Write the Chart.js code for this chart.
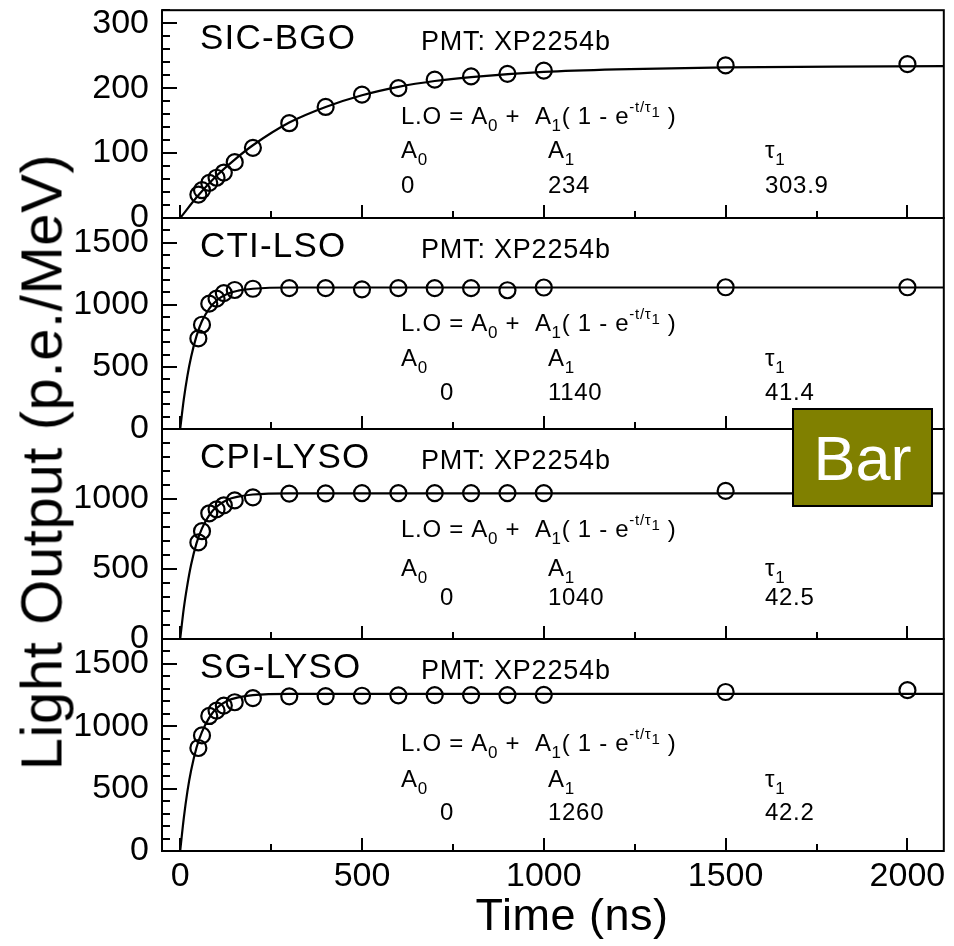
<!DOCTYPE html>
<html>
<head>
<meta charset="utf-8">
<script src="https://cdn.jsdelivr.net/npm/chart.js@4.4.0/dist/chart.umd.min.js"></script>
<style>
  body { margin: 0; background: #fff; }
  #fig { position: relative; width: 954px; height: 946px; font-family: "Liberation Sans", Arial, sans-serif; overflow: hidden; }
  #fig canvas { position: absolute; left: 0; }
  #ytitle { position: absolute; left: 41px; top: 462px; transform: translate(-50%, -50%) rotate(-90deg); font-size: 58px; letter-spacing: 0.6px; white-space: nowrap; color: #000; }
  #bar { position: absolute; left: 792px; top: 408px; width: 141px; height: 99px; box-sizing: border-box; background: #808000; border: 2px solid #000; color: #fff; font-size: 63px; display: flex; align-items: center; justify-content: center; z-index: 5; }
</style>
</head>
<body>
<div id="fig">
  <canvas id="c0" width="954" height="238" style="top:0px"></canvas>
  <canvas id="c1" width="954" height="251" style="top:198px"></canvas>
  <canvas id="c2" width="954" height="250" style="top:409px"></canvas>
  <canvas id="c3" width="954" height="327" style="top:619px"></canvas>
  <div id="ytitle">Light Output (p.e./MeV)</div>
  <div id="bar">Bar</div>
</div>
<script>
// measured gates (ns) and light output (p.e./MeV)
const times = [50, 60, 80, 100, 120, 150, 200, 300, 400, 500, 600, 700, 800, 900, 1000, 1500, 2000];
const sicBgo = [36, 43, 54, 62, 70, 86, 108, 146, 171, 190, 200, 213, 218, 222, 227, 235, 237];
const ctiLso = [730, 840, 1010, 1050, 1095, 1120, 1130, 1135, 1135, 1125, 1135, 1135, 1135, 1118, 1140, 1142, 1142];
const cpiLyso = [690, 770, 898, 926, 955, 990, 1012, 1038, 1040, 1042, 1042, 1042, 1042, 1042, 1042, 1058, 1045];
const sgLyso = [826, 927, 1083, 1126, 1166, 1193, 1226, 1240, 1242, 1245, 1248, 1250, 1250, 1250, 1252, 1275, 1290];

// fit curves
const fitTimesSlow = [0, 50, 100, 150, 200, 300, 400, 500, 600, 700, 800, 1000, 1200, 1500, 1800, 2100];
const fitSicBgo = [0, 35, 65, 90, 112, 147, 171, 189, 202, 211, 217, 225, 229, 232, 233, 234];
const fitTimesFast = [0, 10, 20, 30, 45, 60, 80, 100, 130, 160, 200, 300, 2100];
const fitCtiLso = [0, 240, 430, 580, 750, 870, 970, 1035, 1090, 1115, 1130, 1140, 1140];
const fitCpiLyso = [0, 220, 390, 530, 685, 790, 885, 945, 995, 1017, 1032, 1040, 1040];
const fitSgLyso = [0, 265, 480, 645, 830, 955, 1070, 1145, 1205, 1232, 1250, 1260, 1260];

// axes
const xTicks = [0, 500, 1000, 1500, 2000];
const yTicksBgo = [0, 100, 200, 300];
const yTicksLyso = [0, 500, 1000, 1500];
const yTicksCpi = [0, 500, 1000];

// labels
const panelNames = ['SIC-BGO', 'CTI-LSO', 'CPI-LYSO', 'SG-LYSO'];
const fitA0 = ['0', '0', '0', '0'];
const fitA1 = ['234', '1140', '1040', '1260'];
const fitTau = ['303.9', '41.4', '42.5', '42.2'];
const pmtLabel = 'PMT: XP2254b';
const xTitle = 'Time (ns)';

Chart.defaults.font.family = '"Liberation Sans", Arial, sans-serif';
Chart.defaults.color = '#000';

const FONT = '"Liberation Sans", Arial, sans-serif';

function rich(ctx, x, y, parts) {
  for (const [t, size, dy] of parts) {
    ctx.font = size + 'px ' + FONT;
    ctx.fillText(t, x, y + dy);
    x += ctx.measureText(t).width;
  }
}

// no extra room for half-labels at the ends of the axes
function noPad(s) {
  s.paddingTop = 0; s.paddingBottom = 0; s.paddingLeft = 0; s.paddingRight = 0;
}

const frame = {
  id: 'frame',
  afterDatasetsDraw(chart, args, o) {
    const {ctx, chartArea: a} = chart;
    const x = chart.scales.x, y = chart.scales.y;
    ctx.save();
    ctx.strokeStyle = '#000';
    ctx.lineWidth = 2;
    ctx.strokeRect(a.left, a.top, a.right - a.left, a.bottom - a.top);
    ctx.beginPath();
    for (let v = 0; v <= y.max; v += o.minor) {
      const py = Math.round(y.getPixelForValue(v));
      const len = v % o.major === 0 ? 15 : 8;
      ctx.moveTo(a.left, py);
      ctx.lineTo(a.left + len, py);
    }
    for (let v = 0; v <= 2000; v += 250) {
      const px = Math.round(x.getPixelForValue(v));
      const len = v % 500 === 0 ? 13 : 7;
      ctx.moveTo(px, a.bottom);
      ctx.lineTo(px, a.bottom - len);
    }
    ctx.stroke();

    const i = o.index;
    const L = a.left, T = a.top;
    ctx.fillStyle = '#000';
    ctx.textBaseline = 'alphabetic';
    ctx.textAlign = 'left';
    ctx.letterSpacing = '1.2px';
    ctx.font = '35px ' + FONT;
    ctx.fillText(panelNames[i], L + 38, T + 39);
    ctx.letterSpacing = '0.8px';
    ctx.font = '27px ' + FONT;
    ctx.fillText(pmtLabel, L + 259, T + 40);

    const [r1, r2, r3] = o.rows;
    ctx.letterSpacing = '0.7px';
    rich(ctx, L + 239, T + r1, [['L.O = A', 24, 0], ['0', 17, 7], [' +  A', 24, 0], ['1', 17, 7],
      ['( 1 - e', 24, 0], ['-t/\u03c4', 15, -12], ['1', 15, -7], [' )', 24, 0]]);
    rich(ctx, L + 239, T + r2, [['A', 24, 0], ['0', 17, 7]]);
    rich(ctx, L + 386, T + r2, [['A', 24, 0], ['1', 17, 7]]);
    rich(ctx, L + 603, T + r2, [['\u03c4', 24, 0], ['1', 17, 7]]);
    ctx.font = '24px ' + FONT;
    ctx.fillText(fitA0[i], L + (i === 0 ? 239 : 278), T + r3);
    ctx.fillText(fitA1[i], L + 386, T + r3);
    ctx.fillText(fitTau[i], L + 603, T + r3);

    if (o.index === 3) {
      ctx.letterSpacing = '0.5px';
      ctx.font = '45px ' + FONT;
      ctx.textAlign = 'center';
      ctx.fillText(xTitle, 572, a.bottom + 79);
    }
    ctx.restore();
  }
};

function pts(xs, ys) {
  return xs.map((t, k) => ({x: t, y: ys[k]}));
}

function makePanel(id, cfg) {
  const bottom = cfg.index === 3;
  return new Chart(document.getElementById(id), {
    type: 'scatter',
    data: {
      datasets: [{
        data: pts(cfg.fitT, cfg.fit),
        showLine: true,
        borderColor: '#000',
        borderWidth: 2.2,
        pointRadius: 0,
        cubicInterpolationMode: 'monotone'
      }, {
        data: pts(times, cfg.values),
        showLine: false,
        pointRadius: 8,
        pointBorderWidth: 2.2,
        pointBorderColor: '#000',
        pointBackgroundColor: 'rgba(0,0,0,0)'
      }]
    },
    options: {
      responsive: false,
      animation: false,
      devicePixelRatio: 1,
      events: [],
      layout: {padding: {top: cfg.padT, bottom: bottom ? 0 : 20, left: 0, right: 4}},
      plugins: {legend: {display: false}, tooltip: {enabled: false}, frame: cfg},
      scales: {
        x: {
          type: 'linear', min: -50, max: 2100,
          display: bottom,
          afterBuildTicks: s => { s.ticks = xTicks.map(v => ({value: v})); },
          afterFit: s => { noPad(s); if (bottom) s.height = 95; },
          grid: {display: false, drawTicks: false},
          border: {display: false},
          ticks: {font: {size: 34}, padding: 5, maxRotation: 0, autoSkip: false, callback: v => String(v)}
        },
        y: {
          type: 'linear', min: 0, max: cfg.yMax,
          afterBuildTicks: s => { s.ticks = cfg.yTicks.map(v => ({value: v})); },
          afterFit: s => { noPad(s); s.width = 162; },
          grid: {display: false, drawTicks: false},
          border: {display: false},
          ticks: {font: {size: 34}, padding: 13, autoSkip: false, callback: v => String(v)}
        }
      }
    },
    plugins: [frame]
  });
}

makePanel('c0', {index: 0, padT: 9, yMax: 320, yTicks: yTicksBgo, major: 100, minor: 20,
  fitT: fitTimesSlow, fit: fitSicBgo, values: sicBgo, rows: [114, 148, 183]});
makePanel('c1', {index: 1, padT: 20, yMax: 1700, yTicks: yTicksLyso, major: 500, minor: 100,
  fitT: fitTimesFast, fit: fitCtiLso, values: ctiLso, rows: [113, 148, 182]});
makePanel('c2', {index: 2, padT: 20, yMax: 1500, yTicks: yTicksCpi, major: 500, minor: 100,
  fitT: fitTimesFast, fit: fitCpiLyso, values: cpiLyso, rows: [108, 147, 176]});
makePanel('c3', {index: 3, padT: 20, yMax: 1700, yTicks: yTicksLyso, major: 500, minor: 100,
  fitT: fitTimesFast, fit: fitSgLyso, values: sgLyso, rows: [112, 148, 181]});
</script>
</body>
</html>
